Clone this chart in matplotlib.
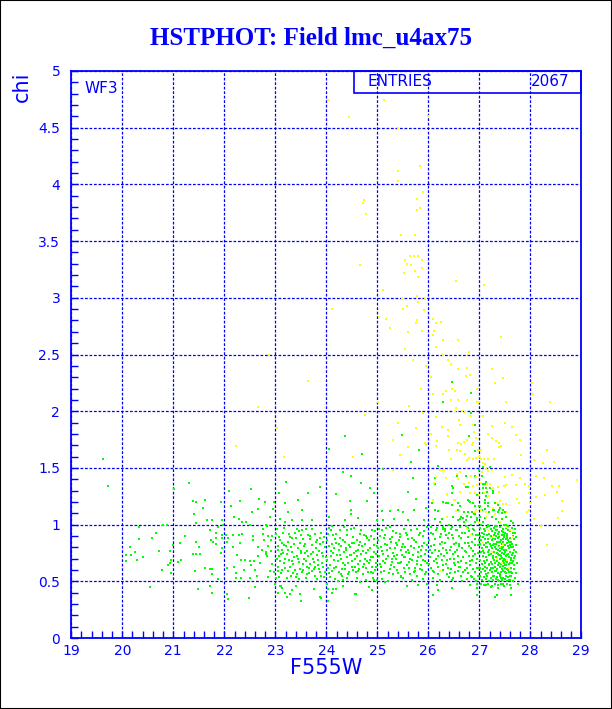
import matplotlib
matplotlib.use('Agg')
import matplotlib.pyplot as plt
from matplotlib.patches import Rectangle
from matplotlib.ticker import MultipleLocator, FormatStrFormatter
import numpy as np

# ---------------- datos ----------------
title = 'HSTPHOT: Field lmc_u4ax75'
x_label = 'F555W'
y_label = 'chi'
chip = 'WF3'
n_entries = 2067

# puntos verdes, zona izquierda (F555W < 23)
green_left = [
    (19.63, 1.58), (19.71, 1.34), (21.30, 1.37), (21.02, 1.31), (22.10, 1.30), (22.53, 1.31),
    (21.39, 1.21), (21.45, 1.20), (21.63, 1.22), (21.93, 1.20), (22.30, 1.21), (22.69, 1.23),
    (22.79, 1.20), (22.97, 1.20), (21.59, 1.15), (22.14, 1.16), (22.55, 1.11), (22.67, 1.14),
    (22.96, 1.14), (21.40, 1.09), (22.89, 1.07), (21.67, 1.04), (21.76, 1.04), (21.95, 1.04),
    (22.20, 1.07), (22.28, 1.05), (22.35, 1.02), (22.43, 1.02), (22.51, 1.00), (21.97, 1.00),
    (21.45, 1.01), (20.80, 1.00), (20.88, 1.00), (20.33, 0.98), (20.67, 0.93), (20.58, 0.88),
    (20.32, 0.87), (20.16, 0.80), (20.24, 0.76), (20.07, 0.73), (20.07, 0.68), (20.18, 0.73),
    (20.28, 0.69), (20.40, 0.71), (20.71, 0.77), (20.93, 0.77), (20.95, 0.69), (20.93, 0.66),
    (20.89, 0.64), (20.77, 0.60), (20.95, 0.57), (21.09, 0.67), (21.16, 0.69), (20.99, 0.82),
    (21.14, 0.84), (21.22, 0.90), (21.44, 0.85), (21.51, 0.80), (21.38, 0.74), (21.44, 0.74),
    (21.53, 0.74), (21.42, 0.59), (21.63, 0.62), (21.71, 0.61), (21.76, 0.61), (21.75, 0.56),
    (21.88, 0.52), (21.73, 0.86), (21.84, 0.88), (21.84, 0.83), (21.78, 0.85), (21.84, 0.93),
    (21.72, 0.95), (21.87, 0.98), (21.96, 0.91), (21.96, 0.88), (22.03, 0.91), (22.08, 0.88),
    (22.17, 0.91), (22.06, 0.85), (21.95, 0.79), (21.93, 0.75), (22.18, 0.80), (22.30, 0.84),
    (22.29, 0.91), (22.34, 0.92), (22.56, 0.90), (22.56, 0.86), (22.66, 0.80), (22.73, 0.78),
    (22.76, 0.92), (22.85, 0.90), (22.94, 0.90), (22.81, 0.76), (22.81, 0.74), (22.92, 0.77),
    (23.05, 0.78), (22.25, 0.73), (22.32, 0.69), (22.40, 0.69), (22.51, 0.68), (22.58, 0.68),
    (22.66, 0.72), (22.84, 0.72), (22.94, 0.65), (22.70, 0.66), (22.52, 0.64), (22.61, 0.60),
    (22.39, 0.60), (22.23, 0.57), (22.20, 0.63), (22.06, 0.62), (22.23, 0.53), (22.32, 0.53),
    (22.51, 0.53), (22.65, 0.55), (22.89, 0.59), (22.85, 0.54), (23.02, 0.53), (23.06, 0.59),
    (20.54, 0.45), (21.48, 0.43), (21.71, 0.46), (21.75, 0.40), (22.06, 0.39), (22.08, 0.34),
    (22.49, 0.35), (22.60, 0.45), (23.06, 0.40), (22.99, 0.48), (22.75, 0.96), (22.84, 0.99),
    (22.91, 0.86), (22.97, 0.58), (22.78, 0.86), (22.86, 0.81),
]

# puntos verdes, banda central (23 < F555W < 26.6, chi 0.5-1)
green_band = [
    (23.04, 0.96), (23.09, 0.86), (23.13, 0.84), (23.18, 0.82), (23.21, 0.81), (23.29, 0.89),
    (23.33, 0.88), (23.43, 0.96), (23.47, 0.94), (23.51, 0.91), (23.54, 0.87), (23.60, 0.96),
    (23.68, 0.90), (23.69, 0.87), (23.77, 0.92), (23.81, 0.86), (23.88, 0.83), (23.94, 0.85),
    (23.07, 0.72), (23.16, 0.75), (23.24, 0.78), (23.33, 0.76), (23.42, 0.72), (23.51, 0.77),
    (23.58, 0.75), (23.65, 0.72), (23.73, 0.70), (23.82, 0.73), (23.91, 0.75), (23.09, 0.68),
    (23.18, 0.66), (23.26, 0.69), (23.35, 0.65), (23.46, 0.67), (23.54, 0.65), (23.62, 0.63),
    (23.69, 0.65), (23.78, 0.63), (23.86, 0.61), (23.94, 0.63), (23.05, 0.63), (23.14, 0.60),
    (23.24, 0.59), (23.35, 0.57), (23.43, 0.56), (23.52, 0.58), (23.62, 0.56), (23.71, 0.59),
    (23.78, 0.55), (23.88, 0.58), (23.98, 0.58), (23.08, 0.54), (23.22, 0.53), (23.41, 0.54),
    (23.60, 0.53), (23.81, 0.52), (23.95, 0.54),
    (24.05, 0.97), (24.10, 0.95), (24.14, 0.91), (24.20, 0.92), (24.27, 0.88), (24.35, 0.98),
    (24.41, 0.95), (24.48, 0.96), (24.53, 0.89), (24.61, 0.86), (24.66, 0.92), (24.74, 0.91),
    (24.79, 0.88), (24.87, 0.90), (24.95, 0.94), (24.06, 0.81), (24.15, 0.79), (24.24, 0.78),
    (24.29, 0.81), (24.39, 0.78), (24.46, 0.80), (24.54, 0.75), (24.63, 0.78), (24.70, 0.81),
    (24.78, 0.75), (24.86, 0.79), (24.94, 0.76), (24.99, 0.81), (24.09, 0.72), (24.16, 0.69),
    (24.26, 0.73), (24.33, 0.66), (24.41, 0.71), (24.50, 0.68), (24.60, 0.72), (24.66, 0.68),
    (24.75, 0.70), (24.83, 0.66), (24.92, 0.71), (24.97, 0.66), (24.03, 0.62), (24.12, 0.59),
    (24.20, 0.63), (24.28, 0.56), (24.37, 0.61), (24.45, 0.58), (24.56, 0.63), (24.63, 0.59),
    (24.71, 0.56), (24.78, 0.62), (24.87, 0.58), (24.95, 0.60), (24.07, 0.54), (24.18, 0.52),
    (24.31, 0.55), (24.41, 0.53), (24.60, 0.53), (24.77, 0.51), (24.92, 0.53), (24.99, 0.51),
    (25.04, 0.96), (25.09, 0.95), (25.16, 0.91), (25.24, 0.98), (25.29, 0.89), (25.37, 0.93),
    (25.45, 0.89), (25.52, 0.96), (25.59, 0.91), (25.68, 0.88), (25.77, 0.96), (25.84, 0.93),
    (25.90, 0.90), (25.97, 0.98), (25.07, 0.80), (25.16, 0.83), (25.24, 0.79), (25.30, 0.75),
    (25.38, 0.82), (25.46, 0.78), (25.55, 0.80), (25.63, 0.75), (25.71, 0.79), (25.80, 0.76),
    (25.88, 0.81), (25.95, 0.78), (25.04, 0.72), (25.12, 0.68), (25.21, 0.72), (25.29, 0.67),
    (25.37, 0.70), (25.45, 0.66), (25.54, 0.71), (25.62, 0.67), (25.69, 0.69), (25.77, 0.65),
    (25.85, 0.72), (25.93, 0.68), (25.07, 0.63), (25.14, 0.59), (25.24, 0.61), (25.30, 0.56),
    (25.39, 0.60), (25.47, 0.55), (25.55, 0.58), (25.63, 0.62), (25.71, 0.58), (25.78, 0.55),
    (25.88, 0.60), (25.95, 0.58), (25.09, 0.52), (25.21, 0.50), (25.46, 0.54), (25.51, 0.53),
    (25.68, 0.51), (25.89, 0.52),
    (26.05, 0.98), (26.10, 0.92), (26.16, 0.95), (26.23, 0.89), (26.28, 0.96), (26.35, 0.91),
    (26.41, 0.93), (26.49, 0.88), (26.56, 0.95), (26.61, 0.90), (26.06, 0.81), (26.14, 0.78),
    (26.22, 0.83), (26.29, 0.79), (26.37, 0.75), (26.45, 0.80), (26.53, 0.76), (26.60, 0.81),
    (26.03, 0.71), (26.11, 0.68), (26.19, 0.72), (26.27, 0.69), (26.35, 0.65), (26.43, 0.70),
    (26.50, 0.66), (26.58, 0.72), (26.05, 0.62), (26.12, 0.58), (26.20, 0.63), (26.28, 0.60),
    (26.36, 0.56), (26.44, 0.61), (26.52, 0.58), (26.60, 0.63), (26.09, 0.53), (26.23, 0.51),
    (26.40, 0.54), (26.49, 0.53),
    (23.02, 0.92), (23.06, 0.81), (23.12, 0.74), (23.15, 0.93), (23.20, 0.70), (23.25, 0.85),
    (23.28, 0.63), (23.31, 0.80), (23.37, 0.71), (23.39, 0.93), (23.44, 0.79), (23.48, 0.61),
    (23.49, 0.84), (23.56, 0.70), (23.57, 0.81), (23.63, 0.77), (23.66, 0.62), (23.71, 0.82),
    (23.74, 0.76), (23.76, 0.67), (23.80, 0.79), (23.84, 0.69), (23.87, 0.88), (23.92, 0.66),
    (23.97, 0.80), (23.99, 0.71), (24.02, 0.86), (24.08, 0.64), (24.11, 0.83), (24.13, 0.75),
    (24.18, 0.87), (24.22, 0.68), (24.25, 0.83), (24.30, 0.61), (24.34, 0.76), (24.37, 0.85),
    (24.43, 0.66), (24.44, 0.82), (24.49, 0.73), (24.52, 0.60), (24.55, 0.84), (24.58, 0.77),
    (24.62, 0.65), (24.67, 0.85), (24.69, 0.74), (24.72, 0.63), (24.76, 0.83), (24.80, 0.68),
    (24.84, 0.86), (24.88, 0.71), (24.90, 0.63), (24.93, 0.82), (24.98, 0.74), (25.01, 0.86),
    (25.05, 0.65), (25.10, 0.77), (25.13, 0.88), (25.18, 0.70), (25.20, 0.82), (25.26, 0.64),
    (25.27, 0.85), (25.32, 0.72), (25.35, 0.79), (25.40, 0.66), (25.42, 0.86), (25.48, 0.73),
    (25.50, 0.83), (25.53, 0.62), (25.57, 0.76), (25.60, 0.87), (25.65, 0.70), (25.66, 0.81),
    (25.73, 0.62), (25.75, 0.85), (25.79, 0.71), (25.82, 0.80), (25.86, 0.64), (25.91, 0.84),
    (25.93, 0.74), (25.98, 0.66), (26.02, 0.86), (26.07, 0.75), (26.13, 0.87), (26.17, 0.66),
    (26.21, 0.77), (26.25, 0.92), (26.30, 0.72), (26.33, 0.84), (26.38, 0.62), (26.42, 0.78),
    (26.47, 0.91), (26.51, 0.70), (26.55, 0.84), (26.59, 0.67),
]

# mas puntos de la banda central (zonas donde la nube es mas densa)
green_band_extra = [
    (23.03, 0.70), (23.07, 0.89), (23.11, 0.57), (23.14, 0.78), (23.17, 0.97), (23.19, 0.62),
    (23.23, 0.74), (23.27, 0.92), (23.30, 0.55), (23.32, 0.68), (23.36, 0.83), (23.38, 0.60),
    (23.41, 0.88), (23.45, 0.70), (23.47, 0.52), (23.50, 0.75), (23.53, 0.95), (23.55, 0.60),
    (23.59, 0.83), (23.61, 0.68), (23.64, 0.91), (23.67, 0.57), (23.70, 0.74), (23.72, 0.96),
    (23.75, 0.61), (23.79, 0.85), (23.83, 0.64), (23.85, 0.77), (23.89, 0.93), (23.90, 0.55),
    (23.93, 0.72), (23.96, 0.89), (24.01, 0.69), (24.04, 0.92), (24.06, 0.57), (24.10, 0.77),
    (24.12, 0.99), (24.15, 0.62), (24.19, 0.84), (24.21, 0.73), (24.24, 0.58), (24.27, 0.95),
    (24.29, 0.70), (24.32, 0.86), (24.36, 0.64), (24.38, 0.79), (24.40, 0.91), (24.42, 0.56),
    (24.46, 0.73), (24.50, 0.84), (24.51, 0.63), (24.54, 0.97), (24.57, 0.70), (24.59, 0.58),
    (24.64, 0.82), (24.65, 0.61), (24.68, 0.95), (24.71, 0.77), (24.74, 0.65), (24.77, 0.90),
    (24.81, 0.58), (24.82, 0.78), (24.85, 0.69), (24.89, 0.95), (24.91, 0.57), (24.94, 0.87),
    (24.97, 0.63), (25.02, 0.79), (25.06, 0.90), (25.08, 0.58), (25.11, 0.74), (25.15, 0.66),
    (25.17, 0.97), (25.19, 0.78), (25.22, 0.57), (25.25, 0.87), (25.28, 0.70), (25.31, 0.94),
    (25.33, 0.63), (25.36, 0.84), (25.39, 0.73), (25.41, 0.57), (25.44, 0.92), (25.47, 0.67),
    (25.49, 0.80), (25.52, 0.71), (25.56, 0.93), (25.58, 0.64), (25.61, 0.78), (25.64, 0.56),
    (25.67, 0.95), (25.70, 0.73), (25.72, 0.86), (25.74, 0.59), (25.78, 0.68), (25.81, 0.91),
    (25.83, 0.61), (25.86, 0.78), (25.89, 0.69), (25.92, 0.94), (25.94, 0.56), (25.97, 0.82),
    (26.01, 0.65), (26.04, 0.78), (26.06, 0.93), (26.09, 0.59), (26.12, 0.82), (26.15, 0.70),
    (26.18, 0.97), (26.20, 0.56), (26.24, 0.74), (26.26, 0.85), (26.29, 0.64), (26.32, 0.94),
    (26.34, 0.78), (26.37, 0.69), (26.39, 0.88), (26.43, 0.57), (26.45, 0.96), (26.48, 0.74),
    (26.50, 0.83), (26.53, 0.64), (26.56, 0.78), (26.58, 0.59),
]

# puntos verdes por debajo de chi = 0.5
green_low = [
    (23.10, 0.46), (23.13, 0.44), (23.20, 0.40), (23.22, 0.36), (23.29, 0.39), (23.41, 0.46),
    (23.49, 0.39), (23.51, 0.33), (23.75, 0.43), (23.88, 0.36), (24.02, 0.48), (24.04, 0.43),
    (24.11, 0.40), (24.04, 0.33), (24.19, 0.43), (24.22, 0.50), (24.32, 0.51), (24.33, 0.46),
    (24.56, 0.39), (24.67, 0.49), (24.84, 0.45), (24.90, 0.42), (24.93, 0.51), (25.16, 0.49),
    (25.58, 0.46), (25.79, 0.47), (25.98, 0.48), (26.10, 0.38), (26.18, 0.47), (26.20, 0.42),
    (26.46, 0.51), (26.47, 0.44), (26.95, 0.38), (26.96, 0.48), (27.13, 0.47), (27.22, 0.45),
    (27.30, 0.36), (27.34, 0.38), (27.36, 0.44), (27.46, 0.48), (27.62, 0.38), (27.62, 0.44),
    (27.75, 0.48), (23.11, 0.46), (23.33, 0.42), (23.89, 0.35), (24.14, 0.43), (24.58, 0.39),
]

# puntos verdes con chi > 1
green_high = [
    (24.06, 1.67), (24.70, 1.62), (25.82, 1.66), (25.67, 1.55), (24.32, 1.46), (24.48, 1.43),
    (25.12, 1.49), (25.70, 1.41), (26.19, 1.52), (24.69, 1.37), (24.86, 1.32), (23.87, 1.33),
    (23.08, 1.28), (23.21, 1.38), (23.64, 1.28), (24.19, 1.27), (24.93, 1.28), (23.45, 1.22),
    (24.46, 1.21), (24.79, 1.21), (23.20, 1.19), (25.61, 1.29), (25.75, 1.23), (25.95, 1.15),
    (25.91, 1.04), (25.10, 1.12), (25.25, 1.12), (25.40, 1.13), (25.50, 1.11), (25.33, 1.05),
    (25.71, 1.13), (25.60, 1.04), (25.12, 1.04), (24.99, 1.04), (24.62, 1.06), (24.48, 1.13),
    (24.49, 1.09), (24.06, 1.07), (24.36, 1.04), (23.52, 1.13), (23.24, 1.11), (23.32, 1.04),
    (23.52, 1.04), (23.72, 1.04), (23.10, 1.05), (22.81, 1.00), (23.19, 1.02), (26.08, 1.19),
    (26.19, 1.12), (26.29, 1.20), (26.46, 1.17), (26.47, 1.28), (26.13, 1.41), (26.14, 1.36),
    (26.13, 1.13), (26.27, 1.05), (26.13, 1.05), (24.36, 1.78), (25.48, 1.79),
    (26.46, 2.26), (26.83, 2.16), (26.28, 2.08), (26.84, 1.98), (26.91, 1.88), (26.79, 1.78),
    (26.91, 1.65), (27.08, 1.51), (27.21, 1.51), (27.00, 1.48), (27.05, 1.43), (26.56, 1.43),
    (26.74, 1.43), (27.07, 1.36), (27.13, 1.38), (26.46, 1.34), (26.49, 1.32), (26.73, 1.33),
    (27.07, 1.32), (27.13, 1.32), (27.21, 1.32), (27.07, 1.28), (27.14, 1.25), (27.26, 1.28),
    (26.29, 1.20), (26.35, 1.19), (26.39, 1.19), (26.79, 1.21), (26.88, 1.19), (26.91, 1.16),
    (27.01, 1.16), (27.12, 1.19), (27.17, 1.16), (27.27, 1.13), (27.38, 1.13), (27.46, 1.13),
    (27.51, 1.11), (26.59, 1.13), (26.70, 1.11), (26.78, 1.11), (26.49, 1.07), (26.62, 1.05),
    (26.73, 1.04), (26.84, 1.07), (26.91, 1.02), (26.96, 1.06), (26.23, 1.02), (26.28, 0.98),
    (26.33, 0.96), (26.40, 1.00), (26.46, 0.98), (26.54, 0.95), (26.92, 1.43), (27.11, 1.36),
    (26.77, 1.33), (26.95, 1.26), (27.16, 1.29), (27.26, 1.30), (26.78, 1.22), (26.81, 1.20),
    (27.11, 1.22), (27.18, 1.19), (27.31, 1.19), (27.36, 1.17), (27.41, 1.15), (26.59, 1.19),
    (26.62, 1.16), (27.00, 1.16), (27.05, 1.13), (27.12, 1.14), (27.20, 1.11), (27.29, 1.13),
    (27.37, 1.11), (27.45, 1.10), (26.85, 1.11), (26.92, 1.09), (27.02, 1.07), (27.11, 1.06),
    (27.24, 1.07), (27.33, 1.05), (27.44, 1.05), (27.53, 1.07), (27.62, 1.03), (27.67, 1.01),
    (26.58, 1.04), (26.65, 1.07), (26.75, 1.08), (27.07, 1.02), (27.18, 1.00), (27.30, 0.99),
    (27.39, 1.02), (27.48, 1.00), (27.57, 0.99),
]

# grupo denso de la derecha (26.6 < F555W < 27.8)
green_clump = [
    (26.62, 0.98), (26.64, 0.88), (26.66, 0.79), (26.68, 0.71), (26.63, 0.63), (26.65, 0.55),
    (26.67, 0.50), (26.70, 1.02), (26.71, 0.93), (26.72, 0.84), (26.73, 0.76), (26.74, 0.66),
    (26.72, 0.60), (26.75, 0.52), (26.77, 0.97), (26.78, 0.89), (26.79, 0.81), (26.80, 0.72),
    (26.81, 0.64), (26.78, 0.57), (26.82, 0.47), (26.84, 1.00), (26.85, 0.92), (26.86, 0.85),
    (26.87, 0.77), (26.85, 0.69), (26.88, 0.61), (26.86, 0.54), (26.90, 0.95), (26.91, 0.87),
    (26.92, 0.74), (26.93, 0.66), (26.91, 0.58), (26.94, 0.50), (26.96, 1.04), (26.97, 0.91),
    (26.98, 0.82), (26.96, 0.70), (26.99, 0.62), (26.97, 0.55), (26.95, 0.44), (26.69, 1.06),
    (26.76, 1.08), (26.89, 1.09),
    (27.02, 0.97), (27.09, 0.96), (27.15, 0.98), (27.22, 0.96), (27.28, 0.97), (27.34, 0.95),
    (27.41, 0.98), (27.47, 0.96), (27.52, 0.97), (27.58, 0.95), (27.64, 0.97), (27.70, 0.96),
    (27.05, 0.93), (27.12, 0.94), (27.19, 0.92), (27.25, 0.94), (27.31, 0.93), (27.37, 0.92),
    (27.44, 0.94), (27.50, 0.93), (27.55, 0.92), (27.61, 0.94), (27.67, 0.93),
    (27.01, 0.90), (27.08, 0.89), (27.16, 0.91), (27.22, 0.90), (27.27, 0.88), (27.33, 0.90),
    (27.39, 0.89), (27.45, 0.91), (27.49, 0.89), (27.54, 0.90), (27.60, 0.88), (27.66, 0.90),
    (27.72, 0.89), (27.04, 0.86), (27.11, 0.87), (27.18, 0.85), (27.24, 0.86), (27.30, 0.87),
    (27.36, 0.85), (27.42, 0.86), (27.47, 0.85), (27.52, 0.87), (27.57, 0.86), (27.63, 0.85),
    (27.69, 0.87), (27.02, 0.83), (27.09, 0.82), (27.14, 0.84), (27.21, 0.83), (27.27, 0.82),
    (27.33, 0.83), (27.38, 0.81), (27.44, 0.83), (27.50, 0.82), (27.55, 0.84), (27.60, 0.82),
    (27.65, 0.83), (27.71, 0.82), (27.06, 0.79), (27.13, 0.80), (27.19, 0.78), (27.25, 0.79),
    (27.31, 0.80), (27.36, 0.78), (27.41, 0.79), (27.46, 0.80), (27.52, 0.78), (27.58, 0.79),
    (27.63, 0.80), (27.68, 0.78), (27.03, 0.76), (27.10, 0.75), (27.17, 0.76), (27.23, 0.74),
    (27.29, 0.76), (27.34, 0.75), (27.40, 0.77), (27.45, 0.75), (27.51, 0.76), (27.56, 0.74),
    (27.61, 0.76), (27.66, 0.75), (27.72, 0.76), (27.07, 0.72), (27.14, 0.71), (27.20, 0.73),
    (27.26, 0.72), (27.32, 0.71), (27.38, 0.73), (27.43, 0.72), (27.48, 0.70), (27.53, 0.72),
    (27.59, 0.71), (27.64, 0.73), (27.70, 0.72), (27.02, 0.69), (27.09, 0.68), (27.16, 0.69),
    (27.22, 0.67), (27.28, 0.69), (27.35, 0.68), (27.41, 0.70), (27.46, 0.68), (27.50, 0.69),
    (27.55, 0.67), (27.62, 0.69), (27.67, 0.68), (27.05, 0.65), (27.12, 0.66), (27.19, 0.64),
    (27.25, 0.65), (27.31, 0.66), (27.37, 0.64), (27.43, 0.65), (27.48, 0.66), (27.53, 0.64),
    (27.58, 0.65), (27.64, 0.66), (27.69, 0.64), (27.01, 0.62), (27.08, 0.61), (27.15, 0.62),
    (27.21, 0.60), (27.27, 0.62), (27.34, 0.61), (27.40, 0.63), (27.45, 0.61), (27.51, 0.62),
    (27.57, 0.60), (27.62, 0.62), (27.68, 0.61), (27.04, 0.58), (27.11, 0.59), (27.18, 0.57),
    (27.24, 0.58), (27.30, 0.59), (27.36, 0.57), (27.42, 0.58), (27.47, 0.59), (27.53, 0.57),
    (27.59, 0.58), (27.65, 0.57), (27.02, 0.55), (27.09, 0.54), (27.16, 0.55), (27.22, 0.53),
    (27.28, 0.55), (27.35, 0.54), (27.41, 0.55), (27.46, 0.53), (27.52, 0.55), (27.57, 0.54),
    (27.63, 0.55), (27.70, 0.53), (27.06, 0.51), (27.13, 0.52), (27.20, 0.50), (27.26, 0.51),
    (27.32, 0.52), (27.38, 0.50), (27.44, 0.51), (27.50, 0.52), (27.55, 0.50), (27.61, 0.51),
    (27.67, 0.50), (27.03, 0.48), (27.10, 0.47), (27.17, 0.48), (27.24, 0.46), (27.30, 0.48),
    (27.37, 0.47), (27.43, 0.48), (27.49, 0.46), (27.54, 0.48), (27.60, 0.47),
    (27.32, 0.955), (27.39, 0.935), (27.46, 0.875), (27.35, 0.845), (27.43, 0.805),
    (27.49, 0.775), (27.37, 0.745), (27.44, 0.705), (27.53, 0.675), (27.39, 0.665),
    (27.47, 0.635), (27.55, 0.605), (27.33, 0.595), (27.41, 0.565), (27.49, 0.745),
    (27.57, 0.815), (27.29, 0.905), (27.55, 0.885), (27.63, 0.705), (27.26, 0.705),
    (27.23, 0.815), (27.60, 0.545), (27.36, 0.515), (27.46, 0.935), (27.52, 0.995),
    (26.61, 0.83), (26.64, 0.68), (26.67, 0.93), (26.69, 0.58), (26.71, 0.77), (26.73, 0.99),
    (26.76, 0.62), (26.77, 0.84), (26.80, 0.94), (26.82, 0.68), (26.83, 0.55), (26.84, 0.79),
    (26.87, 0.96), (26.88, 0.72), (26.89, 0.52), (26.92, 0.82), (26.94, 0.91), (26.95, 0.62),
    (26.97, 0.75), (26.99, 0.86), (27.04, 1.00), (27.07, 0.77), (27.10, 0.92), (27.12, 0.63),
    (27.14, 0.56), (27.17, 0.87), (27.20, 0.99), (27.23, 0.62), (27.26, 0.545), (27.29, 0.83),
    (27.31, 0.625), (27.34, 0.985), (27.36, 0.885), (27.40, 0.845), (27.42, 0.525),
    (27.45, 0.785), (27.48, 0.905), (27.50, 0.645), (27.51, 0.585), (27.54, 0.735),
    (27.56, 0.955), (27.59, 0.845), (27.61, 0.665), (27.63, 0.585), (27.66, 0.805),
    (27.68, 0.705), (27.70, 0.925), (27.71, 0.575), (27.73, 0.665), (27.58, 0.515),
    (27.27, 0.755), (27.19, 0.655), (27.15, 0.805), (27.41, 0.735), (27.33, 0.785),
]

# puntos amarillos
yellow = [
    (24.03, 4.74), (24.44, 4.59), (25.13, 4.74), (26.00, 4.60), (25.41, 4.50), (25.84, 4.16),
    (25.41, 4.12), (25.41, 4.03), (25.89, 3.93), (25.77, 3.87), (24.73, 3.86), (24.71, 3.84),
    (25.84, 3.79), (25.77, 3.77), (24.78, 3.74), (25.46, 3.55), (25.73, 3.55), (25.64, 3.37),
    (25.72, 3.37), (25.80, 3.37), (25.88, 3.33), (25.54, 3.33), (25.58, 3.30), (25.67, 3.29),
    (24.67, 3.29), (25.88, 3.26), (25.73, 3.24), (25.52, 3.22), (25.80, 3.18), (26.54, 3.15),
    (27.10, 3.11), (25.11, 3.07), (25.77, 3.02), (25.48, 2.99), (25.93, 2.99), (25.80, 2.96),
    (25.58, 2.93), (25.50, 2.90), (25.92, 2.89), (25.04, 2.83), (25.18, 2.81), (25.77, 2.80),
    (25.76, 2.78), (26.09, 2.81), (26.15, 2.78), (26.24, 2.79), (25.25, 2.73), (25.60, 2.70),
    (25.88, 2.71), (26.11, 2.71), (26.09, 2.67), (26.28, 2.63), (26.58, 2.63), (26.16, 2.57),
    (27.42, 2.65), (24.12, 2.90), (22.87, 2.50), (23.64, 2.27), (22.66, 2.04), (25.01, 2.08),
    (24.75, 1.97), (23.03, 1.85), (22.23, 1.69), (23.18, 1.60), (24.52, 1.60), (25.45, 1.61),
    (25.30, 1.48), (25.94, 1.72), (26.18, 1.74), (26.40, 1.66), (26.15, 1.69), (26.26, 1.48),
    (26.11, 1.37), (26.16, 1.42), (26.36, 1.27), (26.52, 1.22), (26.09, 1.22),
    (25.55, 2.55), (25.70, 2.45), (25.95, 2.40), (26.05, 2.30), (25.85, 2.20), (26.10, 2.15),
    (25.62, 2.05), (25.90, 1.98), (26.15, 1.95), (25.40, 1.90), (25.75, 1.85), (26.05, 1.80),
    (25.30, 1.75), (25.95, 1.70), (25.60, 1.68),
    (26.28, 2.50), (26.79, 2.52), (26.39, 2.45), (26.44, 2.42), (26.58, 2.375), (26.75, 2.38),
    (26.82, 2.32), (26.74, 2.31), (27.25, 2.375), (27.46, 2.29), (27.30, 2.25), (28.03, 2.25),
    (28.05, 2.15), (26.46, 2.20), (26.35, 2.18), (26.28, 2.15), (26.52, 2.18), (26.95, 2.20),
    (26.45, 2.10), (26.58, 2.10), (26.75, 2.10), (26.96, 2.08), (26.99, 2.08), (27.52, 2.08),
    (28.39, 2.08), (26.54, 2.03), (26.52, 2.00), (26.66, 2.00), (26.71, 1.99), (26.83, 1.96),
    (27.07, 1.96), (26.60, 1.92), (26.62, 1.88), (26.39, 1.83), (26.27, 1.86), (26.88, 1.88),
    (26.90, 1.82), (27.25, 1.87), (27.65, 1.86), (27.50, 1.90), (27.17, 1.80), (27.25, 1.76),
    (27.33, 1.74), (27.38, 1.72), (27.39, 1.68), (27.42, 1.69), (27.80, 1.75), (27.71, 1.79),
    (26.75, 1.75), (26.70, 1.73), (26.65, 1.71), (26.86, 1.70), (26.88, 1.72), (26.93, 1.76),
    (26.58, 1.72), (26.39, 1.78), (26.56, 1.66), (26.63, 1.65), (26.71, 1.62), (26.41, 1.66),
    (26.79, 1.59), (26.75, 1.57), (26.87, 1.58), (26.93, 1.59), (26.97, 1.66), (27.04, 1.66),
    (27.00, 1.60), (27.04, 1.58), (27.09, 1.58), (27.18, 1.58), (27.29, 1.58), (27.07, 1.54),
    (27.11, 1.53), (27.81, 1.61), (28.07, 1.57), (28.32, 1.66), (28.46, 1.55), (28.24, 1.54),
    (26.45, 1.58), (26.23, 1.48), (26.31, 1.48), (26.62, 1.46), (26.57, 1.45), (26.83, 1.43),
    (26.93, 1.42), (26.35, 1.41), (26.58, 1.40), (27.05, 1.46), (27.14, 1.49), (27.18, 1.47),
    (27.25, 1.48), (27.65, 1.44), (27.50, 1.42), (27.80, 1.41), (27.72, 1.35), (27.89, 1.36),
    (27.98, 1.34), (28.11, 1.43), (28.27, 1.41), (28.43, 1.34), (28.57, 1.34), (28.52, 1.29),
    (28.91, 1.39), (26.70, 1.36), (26.79, 1.37), (26.88, 1.34), (26.96, 1.35), (27.04, 1.37),
    (27.16, 1.35), (27.21, 1.36), (27.27, 1.32), (27.37, 1.33), (27.48, 1.34), (27.52, 1.35),
    (26.62, 1.29), (26.82, 1.28), (26.91, 1.28), (27.00, 1.26), (27.10, 1.28), (27.20, 1.25),
    (27.38, 1.29), (26.36, 1.26), (26.50, 1.22), (27.74, 1.23), (27.78, 1.19), (27.97, 1.28),
    (28.11, 1.24), (28.29, 1.26), (28.63, 1.21), (27.41, 1.21), (27.34, 1.19), (27.46, 1.18),
    (27.52, 1.18), (27.27, 1.15), (26.93, 1.13), (27.03, 1.13), (27.14, 1.11), (27.30, 1.09),
    (27.54, 1.11), (27.93, 1.11), (27.97, 1.13), (27.99, 1.19), (28.08, 1.05), (28.54, 1.06),
    (28.62, 1.12), (28.20, 0.99), (28.32, 0.82), (27.41, 1.02), (27.52, 0.98), (27.60, 0.95),
    (27.67, 0.89), (27.47, 0.83), (27.27, 0.89), (27.41, 0.80), (27.54, 0.69), (27.44, 0.66),
    (27.58, 0.62), (27.34, 0.70), (27.25, 0.76), (27.08, 0.84), (27.18, 0.95), (27.00, 1.01),
    (27.13, 1.07), (26.36, 1.07), (26.54, 1.12), (26.75, 0.96), (26.84, 0.92), (26.91, 1.11),
    (26.23, 0.59),
]

BLUE = '#0000ff'
GREEN = '#00ff00'
YELLOW = '#ffff00'

fig = plt.figure(figsize=(6.12, 7.09), dpi=100)
ax = fig.add_axes([71.3 / 612, 71 / 709, 510 / 612, 567 / 709])

for grupo in (green_left, green_band, green_band_extra, green_low, green_high, green_clump):
    gx, gy = np.array(grupo).T
    ax.scatter(gx, gy, s=4.5, marker='s', color=GREEN, linewidths=0,
               antialiased=False, zorder=3)
yx, yy = np.array(yellow).T
ax.scatter(yx, yy, s=4.5, marker='s', color=YELLOW, linewidths=0,
           antialiased=False, zorder=4)

ax.set_xlim(19, 29)
ax.set_ylim(0, 5)
ax.xaxis.set_major_locator(MultipleLocator(1))
ax.xaxis.set_minor_locator(MultipleLocator(0.2))
ax.yaxis.set_major_locator(MultipleLocator(0.5))
ax.yaxis.set_minor_locator(MultipleLocator(0.1))
ax.yaxis.set_major_formatter(FormatStrFormatter('%g'))
ax.tick_params(which='both', direction='in', color=BLUE, width=1, length=5,
               labelcolor=BLUE, labelsize=10)
ax.tick_params(axis='x', pad=4)
ax.tick_params(axis='y', pad=8)
for sp in ax.spines.values():
    sp.set_color(BLUE)
    sp.set_linewidth(1.3)

ax.grid(True, which='major', color=BLUE, linestyle=(0, (2.2, 1.4)), linewidth=0.9)
ax.set_axisbelow(True)

# caja de estadisticas
ax.add_patch(Rectangle((0.554, 0.961), 0.446, 0.039, transform=ax.transAxes,
                       fill=False, edgecolor=BLUE, linewidth=1.2, clip_on=False, zorder=5))
ax.text(0.58, 0.981, 'ENTRIES', transform=ax.transAxes, color=BLUE,
        fontsize=11, va='center', ha='left')
ax.text(0.976, 0.981, str(n_entries), transform=ax.transAxes, color=BLUE,
        fontsize=11, va='center', ha='right')
ax.text(0.025, 0.970, chip, transform=ax.transAxes, color=BLUE,
        fontsize=11, va='center', ha='left')

fig.text(0.508, 0.946, title, color=BLUE, fontsize=18, fontweight='bold',
         family='Liberation Serif', ha='center', va='center')
fig.text(0.533, 0.058, x_label, color=BLUE, fontsize=15, ha='center', va='center')
fig.text(0.036, 0.877, y_label, color=BLUE, fontsize=15, ha='center', va='center',
         rotation=90)

fig.add_artist(Rectangle((0, 0), 1, 1, transform=fig.transFigure, fill=False,
                         edgecolor='black', linewidth=1.5))

fig.savefig('out.png', dpi=100, facecolor='white')
